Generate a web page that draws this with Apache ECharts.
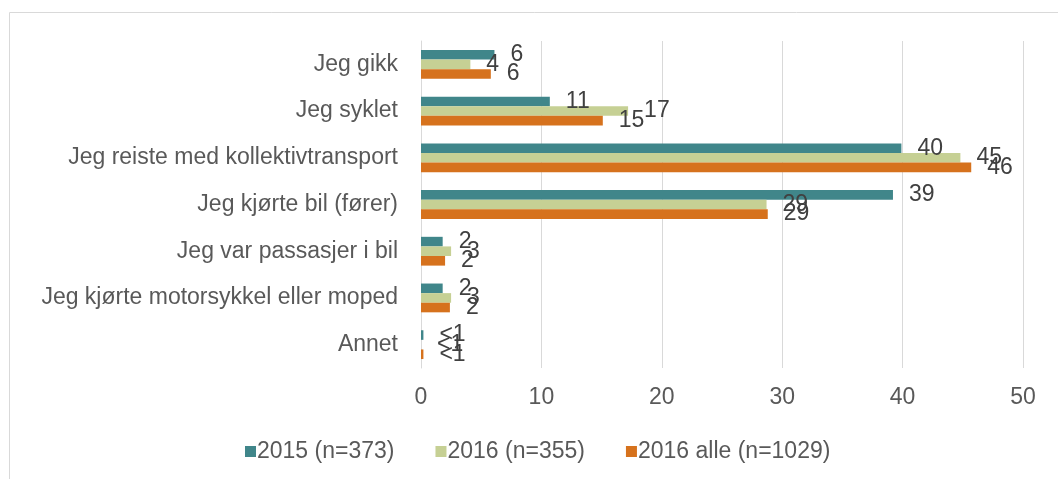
<!DOCTYPE html>
<html>
<head>
<meta charset="utf-8">
<script src="https://cdn.jsdelivr.net/npm/echarts@6/dist/echarts.min.js"></script>
<style>
  html, body { margin: 0; padding: 0; background: #fff; }
  #main-echart { width: 1058px; height: 479px; }
</style>
</head>
<body>
<div id="main-echart"></div>
<script>
// Categories and values (percent)
const categories = [
	'Jeg gikk',
	'Jeg syklet',
	'Jeg reiste med kollektivtransport',
	'Jeg kjørte bil (fører)',
	'Jeg var passasjer i bil',
	'Jeg kjørte motorsykkel eller moped',
	'Annet'
];
const seriesNames = ['2015 (n=373)', '2016 (n=355)', '2016 alle (n=1029)'];
const values2015 = [6.1, 10.7, 39.9, 39.2, 1.8, 1.8, 0.2];
const values2016 = [4.1, 17.2, 44.8, 28.7, 2.5, 2.5, 0];
const values2016alle = [5.8, 15.1, 45.7, 28.8, 2.0, 2.4, 0.2];
const labels2015 = ['6', '11', '40', '39', '2', '2', '<1'];
const labels2016 = ['4', '17', '45', '29', '3', '3', '<1'];
const labels2016alle = ['6', '15', '46', '29', '2', '2', '<1'];
const xTicks = [0, 10, 20, 30, 40, 50];

const colors = ['#40868A', '#C6D094', '#D6721D'];
const FONT = 'Liberation Sans';
const FS = 23;

try {
	let myChart = echarts.init(document.getElementById('main-echart'));

	const makeSeries = (name, data, labels, color) => ({
		name: name,
		type: 'bar',
		data: data,
		barWidth: 9.6,
		barGap: '0%',
		itemStyle: { color: color },
		label: {
			show: true,
			position: 'right',
			distance: 16,
			color: '#404040',
			fontSize: FS,
			fontFamily: FONT,
			formatter: (p) => labels[p.dataIndex]
		}
	});

	let option = {
		animation: false,
		color: colors,
		graphic: [{
			type: 'rect',
			shape: { x: 9.5, y: 12.5, width: 1100, height: 500 },
			style: { fill: 'none', stroke: '#D9D9D9', lineWidth: 1 }
		}],
		legend: {
			left: 240,
			top: 435,
			itemWidth: 11,
			itemHeight: 11,
			itemGap: 41,
			icon: 'rect',
			textStyle: { color: '#595959', fontSize: FS, fontFamily: FONT, padding: [0, 0, 0, -4] },
			data: seriesNames
		},
		grid: { left: 421, right: 35, top: 41, bottom: 111, containLabel: false },
		xAxis: {
			type: 'value',
			min: 0,
			max: 50,
			interval: 10,
			axisLine: { show: false },
			axisTick: { show: false },
			splitLine: { lineStyle: { color: '#D9D9D9', width: 1 } },
			axisLabel: {
				margin: 18,
				color: '#595959',
				fontSize: FS,
				fontFamily: FONT,
				formatter: (v) => xTicks.includes(v) ? String(v) : ''
			}
		},
		yAxis: {
			type: 'category',
			inverse: true,
			data: categories,
			axisLine: { show: true, lineStyle: { color: '#D9D9D9' } },
			axisTick: { show: false },
			axisLabel: {
				margin: 23,
				color: '#595959',
				fontSize: FS,
				fontFamily: FONT
			}
		},
		series: [
			makeSeries(seriesNames[0], values2015, labels2015, colors[0]),
			makeSeries(seriesNames[1], values2016, labels2016, colors[1]),
			makeSeries(seriesNames[2], values2016alle, labels2016alle, colors[2])
		]
	};

	myChart.setOption(option);
} catch (e) {
	console.log(e);
}
</script>
</body>
</html>
